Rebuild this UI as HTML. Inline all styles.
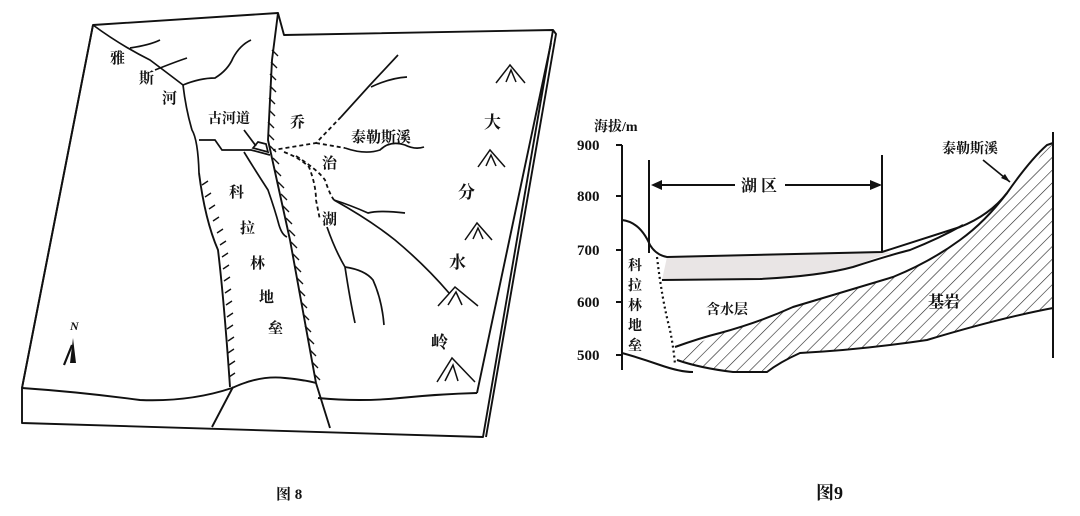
<!DOCTYPE html>
<html><head><meta charset="utf-8"><style>
html,body{margin:0;padding:0;background:#fff;}
svg text{font-family:"Liberation Serif","Noto Serif CJK SC","Noto Sans CJK SC",serif;fill:#111;font-weight:bold;}
</style></head><body>
<svg width="1080" height="511" viewBox="0 0 1080 511" xmlns="http://www.w3.org/2000/svg">
<defs>
<pattern id="hatch" width="9" height="9" patternUnits="userSpaceOnUse" patternTransform="rotate(45)">
<line x1="0" y1="0" x2="0" y2="9" stroke="#222" stroke-width="1.2"/>
</pattern>
</defs>
<rect width="1080" height="511" fill="#fff"/>
<g fill="none" stroke="#111" stroke-width="1.9" stroke-linejoin="round">
<path d="M93,25 L278,13 L284,35 L553,30 L483,437 L22,423 L22,388 Z"/>
<path d="M22,388 L93,25"/>
<path d="M553,30 L556,34 L486,437"/>
<path d="M551,43 L477,393"/>
<path d="M22,388 Q80,392 140,400 Q190,402 232,388 Q260,375 285,378 Q305,380 316,383"/>
<path d="M318,398 Q360,402 400,398 Q440,394 477,393"/>
<path d="M233,387 L212,427"/>
<path d="M316,383 L330,428"/>
<path d="M278,13 L272,60 L268,140 L290,240 L316,383"/>
<path d="M199,173 Q205,220 218,250 Q224,300 230,387"/>
</g>
<g stroke="#111" stroke-width="1.4">
<path d="M272,50 l6,6 M271,62 l6,6 M270,74 l6,6 M270,86 l6,6 M269,98 l6,6 M269,110 l6,6 M268,122 l6,6 M268,134 l6,6 M270,146 l6,6 M273,158 l6,6 M275,170 l6,6 M278,182 l6,6 M281,194 l6,6 M283,206 l6,6 M286,218 l6,6 M289,230 l6,6 M291,242 l6,6 M293,254 l6,6 M295,266 l6,6 M297,278 l6,6 M299,290 l6,6 M301,302 l6,6 M303,314 l6,6 M305,326 l6,6 M308,338 l6,6 M310,350 l6,6 M312,362 l6,6 M314,374 l6,6"/>
<path d="M202,185 l6,-4 M205,197 l6,-4 M209,209 l6,-4 M213,221 l6,-4 M217,233 l6,-4 M220,245 l6,-4 M222,257 l6,-4 M223,269 l6,-4 M224,281 l6,-4 M225,293 l6,-4 M226,305 l6,-4 M227,317 l6,-4 M227,329 l6,-4 M228,341 l6,-4 M228,353 l6,-4 M229,365 l6,-4 M229,377 l6,-4"/>
</g>
<g fill="none" stroke="#111" stroke-width="1.7">
<path d="M93,25 Q120,45 150,60 Q170,75 183,85 Q186,110 192,130 Q198,140 199,173"/>
<path d="M130,48 Q150,45 160,40"/>
<path d="M155,70 Q175,62 187,58"/>
<path d="M183,85 Q200,78 215,78 Q228,70 233,58 Q240,45 251,40"/>
<path d="M199,140 L215,140 L222,150 L251,150 L270,155"/>
<path d="M244,152 Q255,170 268,190 Q275,210 279,225 Q282,235 287,237"/>
<path d="M398,55 L370,85 L341,117"/>
<path d="M371,87 Q390,78 407,77"/>
<path d="M345,148 Q365,155 380,150 Q390,140 405,145 Q415,150 424,147"/>
<path d="M334,200 Q350,205 368,213 Q380,210 405,213"/>
<path d="M334,200 Q370,220 395,240 Q425,265 449,293"/>
<path d="M327,227 Q335,250 345,267 Q350,300 355,323"/>
<path d="M345,267 Q365,270 373,280 Q382,300 384,325"/>
<path d="M253,148 l5,-6 l8,2 l2,8 Z"/>
<path d="M244,130 L256,146" />
</g>
<g fill="none" stroke="#111" stroke-width="1.8" stroke-dasharray="4,3">
<path d="M341,117 L316,143 L273,150"/>
<path d="M316,143 L345,148"/>
<path d="M284,152 Q300,158 309,167 Q316,185 316,200 L320,220"/>
<path d="M296,156 Q318,170 325,180 Q330,195 334,200"/>
</g>
<g fill="none" stroke="#111" stroke-width="1.5">
<path d="M496,83 L510,65 L525,83 M506,82 L511,70 L516,82"/>
<path d="M478,167 L490,150 L505,167 M486,166 L491,155 L496,166"/>
<path d="M465,240 L477,223 L492,240 M473,239 L478,228 L483,239"/>
<path d="M438,306 L455,287 L478,306 M448,305 L456,292 L462,305"/>
<path d="M437,382 L452,358 L475,382 M445,381 L453,365 L458,381"/>
</g>
<path d="M70,363 L73,338 L76,363 Z" fill="#111"/>
<path d="M64,365 L72,345" stroke="#111" stroke-width="2.2"/>
<text x="70" y="330" font-size="12" font-style="italic">N</text>
<g font-size="15">
<text x="110" y="63">雅</text><text x="139" y="83">斯</text><text x="162" y="103">河</text>
<text x="208" y="123" font-size="14">古河道</text>
<text x="290" y="127">乔</text>
<text x="351" y="142">泰勒斯溪</text>
<text x="322" y="168">治</text><text x="322" y="224">湖</text>
<text x="229" y="197">科</text><text x="240" y="233">拉</text><text x="250" y="268">林</text><text x="259" y="302">地</text><text x="268" y="333">垒</text>
<text x="484" y="128" font-size="17">大</text><text x="458" y="198" font-size="17">分</text><text x="449" y="268" font-size="17">水</text><text x="431" y="348" font-size="17">岭</text>
</g>
<text x="276" y="499" font-size="15">图 8</text>

<path d="M677,360 Q700,340 720,333 Q760,322 793,307 Q850,290 893,277 Q930,262 960,240 Q990,205 1007,193 Q1030,175 1047,145 L1053,142 L1053,308 Q1000,318 927,340 Q860,350 800,353 Q780,362 767,372 L733,372 Q700,368 677,360 Z" fill="url(#hatch)"/>
<path d="M662,280 L760,279 Q820,276 853,267 Q880,255 893,253 L882,252 L667,257 Z" fill="#e4dede" opacity="0.8"/>
<g fill="none" stroke="#111" stroke-width="2">
<path d="M622,145 L622,370"/>
<path d="M616,145 L622,145 M616,196 L622,196 M616,250 L622,250 M616,302 L622,302 M616,355 L622,355"/>
<path d="M1053,132 L1053,358"/>
<path d="M649,160 L649,253"/>
<path d="M882,155 L882,252"/>
<path d="M622,220 Q640,222 650,245 Q656,255 667,257 L882,252 Q920,240 960,227 Q990,215 1007,193 Q1030,160 1047,145 L1053,143"/>
<path d="M662,280 L760,279 Q820,276 853,267 Q890,255 910,250 Q940,238 963,225"/>
<path d="M675,347 Q700,338 720,333 Q760,322 793,307 Q850,290 893,277 Q930,262 960,240 Q985,222 1007,193"/>
<path d="M677,360 Q700,368 733,372 L767,372 Q780,362 800,353 Q860,350 927,340 Q1000,318 1053,308"/>
<path d="M622,353 Q640,358 660,365 Q680,372 693,372"/>
<path d="M655,185 L880,185"/>
</g>
<rect x="735" y="176" width="50" height="18" fill="#fff"/>
<path d="M651,185 L662,180 L662,190 Z M882,185 L870,180 L870,190 Z" fill="#111"/>
<path d="M983,160 L1010,182" stroke="#111" stroke-width="1.7"/>
<path d="M1010,182 L1001,178 L1005,174 Z" fill="#111"/>
<path d="M657,257 Q662,300 670,330 Q674,350 675,365" fill="none" stroke="#111" stroke-width="2.2" stroke-dasharray="2,3"/>
<g font-size="14">
<text x="594" y="131">海拔/m</text>
<text x="577" y="150" font-size="15">900</text>
<text x="577" y="201" font-size="15">800</text>
<text x="577" y="255" font-size="15">700</text>
<text x="577" y="307" font-size="15">600</text>
<text x="577" y="360" font-size="15">500</text>
<text x="741" y="191" font-size="16">湖 区</text>
<text x="942" y="153">泰勒斯溪</text>
<text x="706" y="314">含水层</text>
<text x="928" y="307" font-size="16">基岩</text>
<text x="628" y="270">科</text><text x="628" y="290">拉</text><text x="628" y="310">林</text><text x="628" y="330">地</text><text x="628" y="350">垒</text>
</g>
<text x="816" y="499" font-size="18">图9</text>
</svg>
</body></html>
